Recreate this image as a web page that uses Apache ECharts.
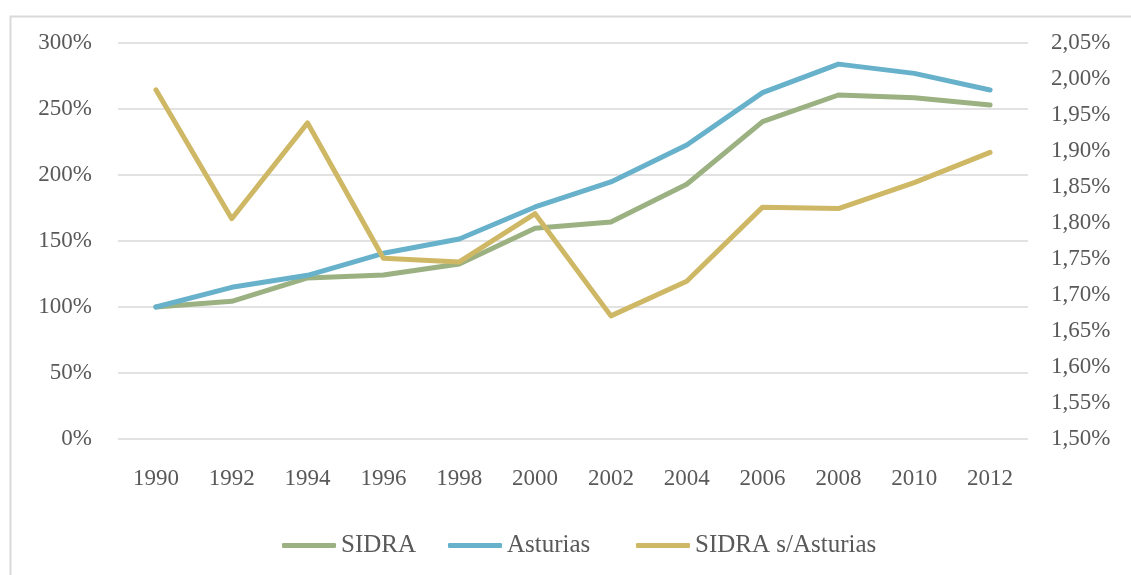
<!DOCTYPE html>
<html>
<head>
<meta charset="utf-8">
<script src="https://cdn.jsdelivr.net/npm/echarts@6/dist/echarts.min.js"></script>
<style>
html,body{margin:0;padding:0;background:#fff;}
#c{width:1131px;height:575px;}
</style>
</head>
<body>
<div id="c"></div>
<script>
var years = ['1990','1992','1994','1996','1998','2000','2002','2004','2006','2008','2010','2012'];
var sidra = [100, 104.3, 122, 124.2, 132.6, 159.6, 164.4, 193, 240.4, 260.6, 258.6, 253];
var asturias = [100, 114.9, 124, 140.7, 151.5, 175.8, 194.7, 222.7, 262.4, 284, 277, 264.4];
var ratio = [1.985, 1.806, 1.939, 1.751, 1.746, 1.813, 1.671, 1.719, 1.822, 1.820, 1.856, 1.898];
var seriesNames = ['SIDRA', 'Asturias', 'SIDRA s/Asturias'];
var leftTicks = {min: 0, max: 300, interval: 50};
var rightTicks = {min: 1.50, max: 2.05, interval: 0.05};

var FONT = '"Liberation Serif", serif';
var TXT = '#595959';
var chart = echarts.init(document.getElementById('c'), null, {renderer: 'canvas'});
function lineSeries(name, data, color, axisIdx) {
  return {
    name: name, type: 'line', data: data, yAxisIndex: axisIdx,
    symbol: 'none', smooth: false,
    lineStyle: {color: color, width: 5, cap: 'round', join: 'round'},
    itemStyle: {color: color}
  };
}
function legendAt(name, left) {
  return {
    top: 528, left: left, icon: 'roundRect',
    itemWidth: 54, itemHeight: 5,
    textStyle: {fontFamily: FONT, fontSize: 25, color: TXT},
    data: [name]
  };
}
chart.setOption({
  animation: false,
  backgroundColor: '#fff',
  graphic: [{
    type: 'rect', left: 8, top: 14,
    shape: {width: 1200, height: 620},
    style: {fill: 'none', stroke: '#d9d9d9', lineWidth: 2}
  }],
  grid: {left: 118, right: 103, top: 43, bottom: 136, containLabel: false},
  legend: [
    legendAt(seriesNames[0], 277),
    legendAt(seriesNames[1], 443),
    legendAt(seriesNames[2], 631)
  ],
  xAxis: {
    type: 'category', data: years, boundaryGap: true,
    axisLine: {show: false}, axisTick: {show: false},
    axisLabel: {fontFamily: FONT, fontSize: 23, color: TXT, margin: 28}
  },
  yAxis: [{
    type: 'value', min: leftTicks.min, max: leftTicks.max, interval: leftTicks.interval,
    axisLine: {show: false}, axisTick: {show: false},
    splitLine: {lineStyle: {color: '#d9d9d9', width: 1.5}},
    axisLabel: {fontFamily: FONT, fontSize: 23, color: TXT, margin: 26,
      formatter: function (v) { return v + '%'; }}
  }, {
    type: 'value', min: rightTicks.min, max: rightTicks.max, interval: rightTicks.interval,
    position: 'right',
    axisLine: {show: false}, axisTick: {show: false}, splitLine: {show: false},
    axisLabel: {fontFamily: FONT, fontSize: 23, color: TXT, margin: 23,
      formatter: function (v) { return v.toFixed(2).replace('.', ',') + '%'; }}
  }],
  series: [
    lineSeries(seriesNames[0], sidra, '#9BB182', 0),
    lineSeries(seriesNames[1], asturias, '#67B1CB', 0),
    lineSeries(seriesNames[2], ratio, '#CFB865', 1)
  ]
});
</script>
</body>
</html>
